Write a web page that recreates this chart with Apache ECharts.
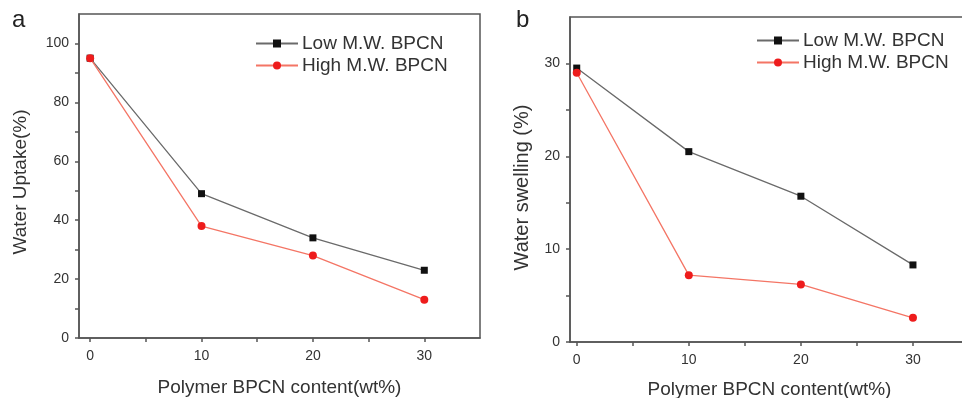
<!DOCTYPE html>
<html><head><meta charset="utf-8">
<script src="https://cdn.jsdelivr.net/npm/echarts@6/dist/echarts.min.js"></script>
<style>html,body{margin:0;padding:0;background:#fff}#c{width:962px;height:398px}</style>
</head><body><div id="c"></div>
<script>
const xCategories = [0, 10, 20, 30];
const uptakeLow = [95, 49, 34, 23];
const uptakeHigh = [95, 38, 28, 13];
const swellLow = [29.5, 20.5, 15.7, 8.3];
const swellHigh = [29, 7.2, 6.2, 2.6];
const xTickLabels = [0, 10, 20, 30];
const xMinorTicks = [0, 5, 10, 15, 20, 25, 30];
const yTickLabelsA = [0, 20, 40, 60, 80, 100];
const yTicksA = [0, 10, 20, 30, 40, 50, 60, 70, 80, 90, 100];
const yTickLabelsB = [0, 10, 20, 30];
const yTicksB = [0, 5, 10, 15, 20, 25, 30];
const seriesNames = ['Low M.W. BPCN', 'High M.W. BPCN'];

const FONT = 'Liberation Sans, Arial, sans-serif';
const AX = '#555';
const TXT = '#333';

function xAxis(gi, min, gap) {
  return {
    type: 'value', gridIndex: gi, min: min, max: 35,
    name: 'Polymer BPCN content(wt%)', nameLocation: 'middle', nameGap: gap,
    nameTextStyle: { fontSize: 19, color: TXT, fontFamily: FONT },
    axisLine: { show: true, onZero: false, lineStyle: { color: AX, width: 1.5 } },
    axisTick: { show: true, length: 4, customValues: xMinorTicks, lineStyle: { color: AX, width: 1.5 } },
    axisLabel: { customValues: xTickLabels, fontSize: 14, color: TXT, fontFamily: FONT, margin: 11 },
    splitLine: { show: false }
  };
}
function yAxis(gi, max, ticks, labels, name, gap, fs, shift) {
  return {
    type: 'value', gridIndex: gi, min: 0, max: max,
    name: name, nameLocation: 'middle', nameGap: gap,
    nameTextStyle: { fontSize: fs, color: TXT, fontFamily: FONT, padding: [0, shift, 0, 0] },
    axisLine: { show: true, onZero: false, lineStyle: { color: AX, width: 1.5 } },
    axisTick: { show: true, length: 4, customValues: ticks, lineStyle: { color: AX, width: 1.5 } },
    axisLabel: { customValues: labels, fontSize: 14, color: TXT, fontFamily: FONT, margin: 10 },
    splitLine: { show: false }
  };
}
function pairs(vals) { return xCategories.map((x, i) => [x, vals[i]]); }
function lowSeries(xi, vals) {
  return { name: seriesNames[0], type: 'line', xAxisIndex: xi, yAxisIndex: xi, data: pairs(vals),
    symbol: 'rect', symbolSize: 7, showAllSymbol: true,
    lineStyle: { color: '#6a6a6a', width: 1.3 }, itemStyle: { color: '#111' }, z: 3 };
}
function highSeries(xi, vals) {
  return { name: seriesNames[1], type: 'line', xAxisIndex: xi, yAxisIndex: xi, data: pairs(vals),
    symbol: 'circle', symbolSize: 8, showAllSymbol: true,
    lineStyle: { color: '#f47565', width: 1.3 }, itemStyle: { color: '#ee1c1c' }, z: 4 };
}
function legend(left, top) {
  return { orient: 'vertical', left: left, top: top, padding: 0, itemWidth: 42, itemHeight: 10, itemGap: 3,
    data: seriesNames, textStyle: { fontSize: 19, color: TXT, fontFamily: FONT, padding: [0, 0, 0, -1] },
    selectedMode: false };
}

const chart = echarts.init(document.getElementById('c'), null, { renderer: 'canvas' });
chart.setOption({
  backgroundColor: '#fff',
  animation: false,
  grid: [
    { left: 79, top: 14, width: 401, height: 324, show: true, borderColor: AX, borderWidth: 1.5, outerBoundsMode: 'none', containLabel: false },
    { left: 570, top: 17, width: 399, height: 325, show: true, borderColor: AX, borderWidth: 1.5, outerBoundsMode: 'none', containLabel: false }
  ],
  xAxis: [xAxis(0, -1, 40), xAxis(1, -0.6, 38)],
  yAxis: [
    yAxis(0, 110, yTicksA, yTickLabelsA, 'Water Uptake(%)', 49, 19, 12),
    yAxis(1, 35, yTicksB, yTickLabelsB, 'Water swelling (%)', 38, 20, 16)
  ],
  legend: [legend(255, 34), legend(756, 31)],
  series: [
    lowSeries(0, uptakeLow), highSeries(0, uptakeHigh),
    lowSeries(1, swellLow), highSeries(1, swellHigh)
  ],
  graphic: [
    { type: 'text', left: 12, top: 8, style: { text: 'a', fontSize: 24, fill: '#222', fontFamily: FONT } },
    { type: 'text', left: 516, top: 8, style: { text: 'b', fontSize: 24, fill: '#222', fontFamily: FONT } }
  ]
});
</script></body></html>
